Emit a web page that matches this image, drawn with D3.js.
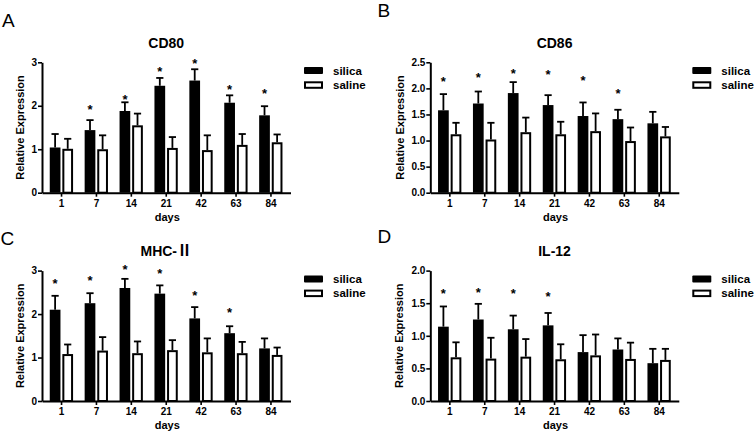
<!DOCTYPE html>
<html>
<head>
<meta charset="utf-8">
<script src="https://cdn.jsdelivr.net/npm/d3@7"></script>
<style>
  html, body { margin: 0; padding: 0; background: #fff; }
  svg { display: block; font-family: "Liberation Sans", Arial, sans-serif; }
</style>
</head>
<body>
<svg id="chart" width="754" height="433"></svg>
<script>
// ---------------- data ----------------
const days = ["1", "7", "14", "21", "42", "63", "84"];
const seriesNames = ["silica", "saline"];

// CD80
const cd80Silica    = [1.04, 1.44, 1.88, 2.46, 2.58, 2.07, 1.78];
const cd80SilicaErr = [0.31, 0.23, 0.20, 0.18, 0.26, 0.17, 0.21];
const cd80Saline    = [1.01, 1.00, 1.55, 1.03, 0.98, 1.10, 1.16];
const cd80SalineErr = [0.23, 0.32, 0.27, 0.25, 0.34, 0.25, 0.18];
const cd80Stars     = [null, 1.98, 2.20, 2.86, 3.03, 2.44, 2.35];

// CD86
const cd86Silica    = [1.58, 1.71, 1.91, 1.68, 1.47, 1.41, 1.33];
const cd86SilicaErr = [0.31, 0.23, 0.21, 0.19, 0.26, 0.18, 0.22];
const cd86Saline    = [1.12, 1.02, 1.16, 1.12, 1.18, 0.99, 1.08];
const cd86SalineErr = [0.22, 0.32, 0.28, 0.24, 0.34, 0.26, 0.18];
const cd86Stars     = [2.19, 2.26, 2.34, 2.32, 2.21, 1.96, null];

// MHC-II
const mhcSilica    = [2.10, 2.25, 2.60, 2.47, 1.90, 1.56, 1.21];
const mhcSilicaErr = [0.32, 0.23, 0.21, 0.19, 0.26, 0.16, 0.23];
const mhcSaline    = [1.08, 1.16, 1.10, 1.17, 1.12, 1.10, 1.06];
const mhcSalineErr = [0.22, 0.31, 0.27, 0.23, 0.32, 0.26, 0.17];
const mhcStars     = [2.77, 2.85, 3.09, 3.00, 2.50, 2.11, null];

// IL-12
const il12Silica    = [1.14, 1.25, 1.10, 1.16, 0.75, 0.79, 0.58];
const il12SilicaErr = [0.31, 0.24, 0.21, 0.19, 0.26, 0.17, 0.22];
const il12Saline    = [0.67, 0.65, 0.68, 0.64, 0.70, 0.645, 0.63];
const il12SalineErr = [0.23, 0.32, 0.27, 0.23, 0.32, 0.25, 0.17];
const il12Stars     = [1.70, 1.71, 1.70, 1.64, null, null, null];

const ticks3  = [0, 1, 2, 3];
const ticks25 = [0, 0.5, 1.0, 1.5, 2.0, 2.5];
const ticks2  = [0, 0.5, 1.0, 1.5, 2.0];

const panelLetters = ["A", "B", "C", "D"];
const panelTitles  = [["CD80", ""], ["CD86", ""], ["MHC-", "\u2161"], ["IL-12", ""]];
const xLabel = "days";
const yLabel = "Relative Expression";

// ---------------- layout ----------------
const panels = [
  {letter: panelLetters[0], title: panelTitles[0], dx: 0,     dy: 0,     yMax: 3,   ticks: ticks3,  fmt: d3.format("d"),
   s: cd80Silica, se: cd80SilicaErr, c: cd80Saline, ce: cd80SalineErr, stars: cd80Stars, lx: 2,   ly: 26.7, ylx: 24},
  {letter: panelLetters[1], title: panelTitles[1], dx: 388.3, dy: 0,     yMax: 2.5, ticks: ticks25, fmt: d3.format(".1f"),
   s: cd86Silica, se: cd86SilicaErr, c: cd86Saline, ce: cd86SalineErr, stars: cd86Stars, lx: 377.5, ly: 16.7, ylx: 15.5},
  {letter: panelLetters[2], title: panelTitles[2], dx: 0,     dy: 208.3, yMax: 3,   ticks: ticks3,  fmt: d3.format("d"),
   s: mhcSilica, se: mhcSilicaErr, c: mhcSaline, ce: mhcSalineErr, stars: mhcStars, lx: 0.5, ly: 245.3, ylx: 24},
  {letter: panelLetters[3], title: panelTitles[3], dx: 388.3, dy: 208.3, yMax: 2,   ticks: ticks2,  fmt: d3.format(".1f"),
   s: il12Silica, se: il12SilicaErr, c: il12Saline, ce: il12SalineErr, stars: il12Stars, lx: 377.5, ly: 243.3, ylx: 15}
];

const plotLeft = 42, plotRight = 290.5, plotTop = 62.3, plotBottom = 192.7;
const svg = d3.select("#chart");

const x0 = d3.scaleBand().domain(days).range([plotLeft, plotRight]).paddingOuter(0.06).paddingInner(0);
const x1 = d3.scaleBand().domain(seriesNames).range([x0.bandwidth() * 0.162, x0.bandwidth() * 0.83]).paddingInner(0.15).paddingOuter(0);
const bw = x1.bandwidth();

panels.forEach(p => {
  // panel letter (in page coordinates)
  svg.append("text")
    .attr("x", p.lx).attr("y", p.ly)
    .attr("font-size", 19).attr("fill", "#000")
    .text(p.letter);

  const g = svg.append("g").attr("transform", `translate(${p.dx},${p.dy})`);
  const y = d3.scaleLinear().domain([0, p.yMax]).range([plotBottom, plotTop]);

  // title
  const t = g.append("text")
    .attr("x", (plotLeft + plotRight) / 2).attr("y", 48)
    .attr("text-anchor", "middle").attr("font-size", 14).attr("font-weight", "bold");
  t.append("tspan").text(p.title[0]);
  if (p.title[1]) {
    t.append("tspan").attr("font-family", "Noto Sans CJK SC, Noto Sans CJK JP, DejaVu Serif, serif")
      .attr("font-weight", "bold").attr("font-size", 15).text(p.title[1]);
  }

  const rows = days.map((d, i) => ({day: d, s: p.s[i], se: p.se[i], c: p.c[i], ce: p.ce[i], star: p.stars[i]}));

  // error bars
  const errG = g.append("g").attr("stroke", "#000").attr("stroke-width", 1.8);
  rows.forEach(r => {
    [["silica", r.s, r.se], ["saline", r.c, r.ce]].forEach(([name, v, e]) => {
      const cx = x0(r.day) + x1(name) + bw / 2;
      errG.append("line").attr("x1", cx).attr("x2", cx).attr("y1", y(v)).attr("y2", y(v + e));
      errG.append("line").attr("x1", cx - 3.6).attr("x2", cx + 3.6).attr("y1", y(v + e)).attr("y2", y(v + e));
    });
  });

  // silica bars
  g.append("g").selectAll("rect").data(rows).join("rect")
    .attr("x", r => x0(r.day) + x1("silica"))
    .attr("y", r => y(r.s))
    .attr("width", bw)
    .attr("height", r => y(0) - y(r.s))
    .attr("fill", "#000");

  // saline bars
  g.append("g").selectAll("rect").data(rows).join("rect")
    .attr("x", r => x0(r.day) + x1("saline") + 1)
    .attr("y", r => y(r.c) + 1)
    .attr("width", bw - 2)
    .attr("height", r => Math.max(0, y(0) - y(r.c) - 1))
    .attr("fill", "#fff").attr("stroke", "#000").attr("stroke-width", 2);

  // significance stars
  g.append("g").selectAll("text").data(rows.filter(r => r.star != null)).join("text")
    .attr("x", r => x0(r.day) + x1("silica") + bw / 2)
    .attr("y", r => y(r.star) + 7.4)
    .attr("text-anchor", "middle").attr("font-size", 13).attr("font-weight", "bold")
    .text("*");

  // y axis
  const yAxis = g.append("g").attr("transform", `translate(${plotLeft},0)`)
    .call(d3.axisLeft(y).tickValues(p.ticks).tickFormat(p.fmt).tickSize(4).tickSizeOuter(0).tickPadding(1));
  yAxis.select(".domain").attr("stroke-width", 2);
  yAxis.selectAll(".tick line").attr("stroke-width", 1.6);
  yAxis.selectAll("text").attr("font-size", 10).attr("font-weight", "bold").attr("fill", "#000")
    .attr("font-family", "Liberation Sans, Arial, sans-serif");

  // x axis
  const xAxis = g.append("g").attr("transform", `translate(0,${plotBottom})`)
    .call(d3.axisBottom(x0).tickSize(4).tickSizeOuter(0).tickPadding(3));
  xAxis.select(".domain").attr("stroke-width", 2);
  xAxis.selectAll(".tick line").attr("stroke-width", 1.6);
  xAxis.selectAll("text").attr("font-size", 10).attr("font-weight", "bold").attr("fill", "#000")
    .attr("font-family", "Liberation Sans, Arial, sans-serif");

  // axis labels
  g.append("text")
    .attr("x", (plotLeft + plotRight) / 2 + 1).attr("y", 221)
    .attr("text-anchor", "middle").attr("font-size", 11).attr("font-weight", "bold")
    .text(xLabel);
  g.append("text")
    .attr("transform", `translate(${p.ylx},${(plotTop + plotBottom) / 2}) rotate(-90)`)
    .attr("text-anchor", "middle").attr("font-size", 11).attr("font-weight", "bold")
    .text(yLabel);

  // legend
  const leg = g.append("g").attr("transform", `translate(304,${plotTop})`);
  leg.append("rect").attr("x", 0).attr("y", 4.8).attr("width", 19).attr("height", 7).attr("rx", 1).attr("fill", "#000");
  leg.append("rect").attr("x", 1).attr("y", 20).attr("width", 17).attr("height", 5.5)
    .attr("fill", "#fff").attr("stroke", "#000").attr("stroke-width", 2);
  leg.append("text").attr("x", 29).attr("y", 12.8).attr("font-size", 11.5).attr("font-weight", "bold").text(seriesNames[0]);
  leg.append("text").attr("x", 29).attr("y", 26.8).attr("font-size", 11.5).attr("font-weight", "bold").text(seriesNames[1]);
});
</script>
</body>
</html>
